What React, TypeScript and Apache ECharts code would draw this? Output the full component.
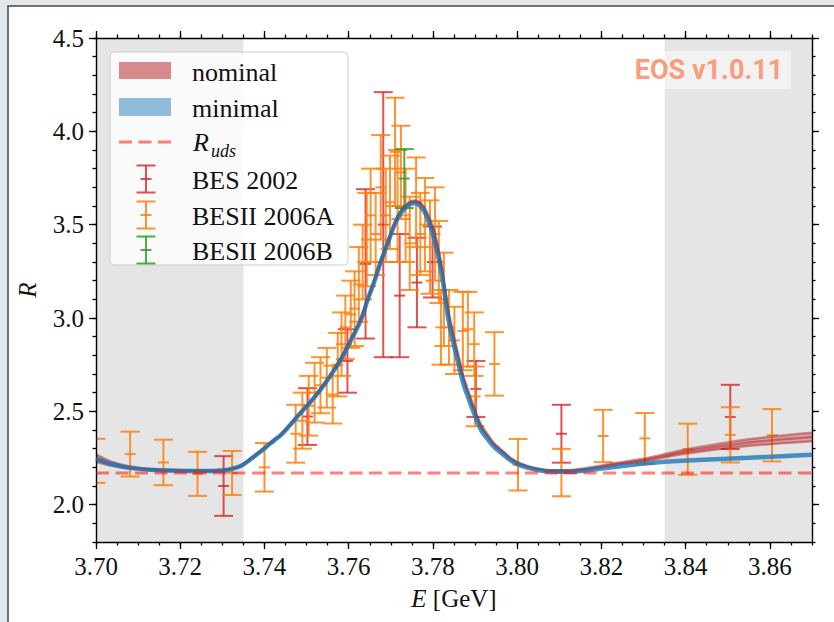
import React, { useEffect, useRef } from "react";
import * as echarts from "echarts";

// ---- data ----
const curveE = [
  3.7, 3.7035, 3.708, 3.715, 3.725, 3.73, 3.732, 3.7345, 3.7365, 3.739, 3.7415, 3.744, 3.7462, 3.7486,
  3.751, 3.7533, 3.7557, 3.7581, 3.7605, 3.7629, 3.7645, 3.766, 3.7676, 3.7693, 3.7707, 3.7719, 3.7731,
  3.7743, 3.7755, 3.7767, 3.7779, 3.779, 3.7802, 3.7812, 3.782, 3.7829, 3.7836, 3.7848, 3.786, 3.7871,
  3.7883, 3.7898, 3.7914, 3.7931, 3.7945, 3.7962, 3.7986, 3.801, 3.8045, 3.808, 3.813, 3.8175, 3.823,
  3.831, 3.839, 3.855, 3.87,
];
const minimalR = [
  2.245, 2.218, 2.197, 2.184, 2.18, 2.183, 2.19, 2.208, 2.24, 2.283, 2.33, 2.375, 2.43, 2.492,
  2.552, 2.616, 2.692, 2.777, 2.88, 2.99, 3.098, 3.19, 3.3, 3.403, 3.489, 3.548, 3.582,
  3.606, 3.615, 3.605, 3.572, 3.515, 3.435, 3.335, 3.245, 3.113, 3.001, 2.872, 2.76, 2.658,
  2.578, 2.487, 2.401, 2.348, 2.31, 2.278, 2.235, 2.208, 2.187, 2.178, 2.177, 2.186, 2.202,
  2.222, 2.235, 2.251, 2.267,
];
const nominalLowR = [
  2.23, 2.21, 2.195, 2.183, 2.18, 2.183, 2.19, 2.208, 2.24, 2.283, 2.33, 2.375, 2.43, 2.492,
  2.552, 2.616, 2.692, 2.777, 2.88, 2.99, 3.098, 3.19, 3.3, 3.403, 3.489, 3.548, 3.585,
  3.61, 3.62, 3.612, 3.58, 3.525, 3.45, 3.35, 3.262, 3.13, 3.02, 2.89, 2.778, 2.675,
  2.595, 2.5, 2.412, 2.358, 2.318, 2.285, 2.24, 2.212, 2.19, 2.18, 2.18, 2.19, 2.21,
  2.235, 2.27, 2.315, 2.34,
];
const nominalHighR = [
  2.27, 2.232, 2.205, 2.188, 2.183, 2.186, 2.193, 2.211, 2.243, 2.286, 2.333, 2.378, 2.433, 2.495,
  2.555, 2.62, 2.697, 2.782, 2.886, 2.996, 3.105, 3.198, 3.308, 3.412, 3.498, 3.558, 3.595,
  3.62, 3.63, 3.624, 3.595, 3.545, 3.475, 3.38, 3.29, 3.16, 3.05, 2.92, 2.805, 2.7,
  2.615, 2.52, 2.43, 2.372, 2.33, 2.295, 2.248, 2.218, 2.195, 2.185, 2.186, 2.2, 2.222,
  2.25, 2.29, 2.35, 2.385,
];
const rUds = 2.17;

// [E, R, error]
const bes2002 = [
  [3.7303, 2.1, 0.16], [3.7502, 2.472, 0.152], [3.7597, 2.77, 0.17], [3.764, 3.29, 0.4],
  [3.7682, 3.5, 0.71], [3.7721, 3.12, 0.33], [3.7762, 3.19, 0.24], [3.7799, 3.3, 0.19],
  [3.7902, 2.62, 0.15], [3.8105, 2.38, 0.155], [3.8506, 2.47, 0.172],
];
const besii2006A = [
  [3.7, 2.235, 0.118], [3.7081, 2.271, 0.12], [3.716, 2.226, 0.122], [3.7241, 2.165, 0.118],
  [3.7323, 2.17, 0.118], [3.74, 2.2, 0.13], [3.7474, 2.38, 0.155], [3.749, 2.45, 0.15],
  [3.7505, 2.53, 0.16], [3.7519, 2.6, 0.16], [3.7533, 2.64, 0.15], [3.7548, 2.68, 0.16],
  [3.7562, 2.59, 0.155], [3.7574, 2.75, 0.17], [3.7583, 2.86, 0.17], [3.7592, 2.95, 0.17],
  [3.7605, 3.02, 0.18], [3.7614, 3.05, 0.2], [3.7624, 3.18, 0.2], [3.7633, 3.3, 0.2],
  [3.7643, 3.42, 0.25], [3.7652, 3.55, 0.25], [3.7664, 3.45, 0.22], [3.7676, 3.7, 0.28],
  [3.7688, 3.55, 0.25], [3.7698, 3.62, 0.25], [3.771, 3.89, 0.29], [3.7716, 3.6, 0.3],
  [3.7724, 3.78, 0.25], [3.7735, 3.55, 0.25], [3.7745, 3.4, 0.25], [3.776, 3.62, 0.24],
  [3.777, 3.45, 0.22], [3.7781, 3.5, 0.25], [3.7793, 3.38, 0.25], [3.7805, 3.45, 0.25],
  [3.7814, 3.3, 0.22], [3.7819, 2.95, 0.2], [3.7826, 3.1, 0.25], [3.7838, 2.95, 0.2],
  [3.7851, 2.88, 0.18], [3.7871, 2.93, 0.21], [3.7883, 2.94, 0.2], [3.7898, 2.86, 0.17],
  [3.79, 2.58, 0.16], [3.7946, 2.754, 0.17], [3.8002, 2.214, 0.138], [3.8105, 2.172, 0.127],
  [3.8204, 2.368, 0.14], [3.8303, 2.355, 0.136], [3.8405, 2.297, 0.137], [3.8506, 2.374, 0.148],
  [3.8605, 2.372, 0.14],
];
const besii2006B = [[3.7732, 3.747, 0.158]];

const shadedRanges = [[3.7, 3.735], [3.835, 3.87]];
const xTicks = [3.7, 3.72, 3.74, 3.76, 3.78, 3.8, 3.82, 3.84, 3.86];
const yTicks = [2.0, 2.5, 3.0, 3.5, 4.0, 4.5];
const X_MIN = 3.7, X_MAX = 3.87, Y_MIN = 1.8, Y_MAX = 4.5;

const SERIF = "'Liberation Serif', 'DejaVu Serif', serif";
const RED = "rgba(214,39,40,0.8)";
const ORANGE = "rgba(255,127,14,0.85)";
const GREEN = "rgba(44,160,44,0.85)";
const NOM_LINE = "rgba(178,34,34,0.5)";

function errRender(color: string) {
  return (params: any, api: any) => {
    const x = api.value(0), y = api.value(1), e = api.value(2);
    const pc = api.coord([x, y]);
    const pt = api.coord([x, y + e]);
    const pb = api.coord([x, y - e]);
    const cap = 9.5, mk = 5.5;
    const style = { stroke: color, lineWidth: 2 };
    return {
      type: "group",
      children: [
        { type: "line", shape: { x1: pt[0], y1: pt[1], x2: pb[0], y2: pb[1] }, style },
        { type: "line", shape: { x1: pt[0] - cap, y1: pt[1], x2: pt[0] + cap, y2: pt[1] }, style },
        { type: "line", shape: { x1: pb[0] - cap, y1: pb[1], x2: pb[0] + cap, y2: pb[1] }, style },
        { type: "line", shape: { x1: pc[0] - mk, y1: pc[1], x2: pc[0] + mk, y2: pc[1] }, style },
      ],
    };
  };
}

function legendErr(x: number, yc: number, color: string) {
  const h = 13.5, cap = 9.5, mk = 5.5;
  const style = { stroke: color, lineWidth: 2 };
  return [
    { type: "line", z: 101, shape: { x1: x, y1: yc - h, x2: x, y2: yc + h }, style },
    { type: "line", z: 101, shape: { x1: x - cap, y1: yc - h, x2: x + cap, y2: yc - h }, style },
    { type: "line", z: 101, shape: { x1: x - cap, y1: yc + h, x2: x + cap, y2: yc + h }, style },
    { type: "line", z: 101, shape: { x1: x - mk, y1: yc, x2: x + mk, y2: yc }, style },
  ];
}

function legendText(x: number, y: number, text: string) {
  return {
    type: "text", z: 101, x, y,
    style: { text, fontFamily: SERIF, fontSize: 26, fill: "#111", textVerticalAlign: "middle" },
  };
}

export default function App() {
  const ref = useRef<HTMLDivElement>(null);
  useEffect(() => {
    if (!ref.current) return;
    const chart = echarts.init(ref.current, null, { renderer: "svg" });
    const axisLineStyle = { color: "#000", width: 1.4 };
    const tickStyle = { color: "#000", width: 1.3 };
    const labelStyle = { fontFamily: SERIF, fontSize: 25, color: "#111" };

    const majorX = (pos: string, withLabel: boolean, extra: any = {}) => ({
      type: "value", min: X_MIN, max: X_MAX, position: pos, z: 5,
      axisLine: { show: true, onZero: false, lineStyle: axisLineStyle },
      axisTick: { show: true, customValues: xTicks, length: 7, lineStyle: tickStyle },
      axisLabel: withLabel
        ? { show: true, customValues: xTicks, formatter: (v: number) => v.toFixed(2), margin: 12, ...labelStyle }
        : { show: false },
      splitLine: { show: false },
      ...extra,
    });
    const minorX = (pos: string) => ({
      type: "value", min: X_MIN, max: X_MAX, interval: 0.005, position: pos, z: 5,
      axisLine: { show: false }, axisTick: { show: true, length: 3.5, lineStyle: tickStyle },
      axisLabel: { show: false }, splitLine: { show: false },
    });
    const majorY = (pos: string, withLabel: boolean, extra: any = {}) => ({
      type: "value", min: Y_MIN, max: Y_MAX, position: pos, z: 5,
      axisLine: { show: true, onZero: false, lineStyle: axisLineStyle },
      axisTick: { show: true, customValues: yTicks, length: 7, lineStyle: tickStyle },
      axisLabel: withLabel
        ? { show: true, customValues: yTicks, formatter: (v: number) => v.toFixed(1), margin: 12, ...labelStyle }
        : { show: false },
      splitLine: { show: false },
      ...extra,
    });
    const minorY = (pos: string) => ({
      type: "value", min: Y_MIN, max: Y_MAX, interval: 0.1, position: pos, z: 5,
      axisLine: { show: false }, axisTick: { show: true, length: 3.5, lineStyle: tickStyle },
      axisLabel: { show: false }, splitLine: { show: false },
    });

    const toPairs = (ys: number[]) => curveE.map((e, i) => [e, ys[i]]);
    const nominalMid = curveE.map((e, i) => (nominalLowR[i] + nominalHighR[i]) / 2);

    const errSeries = (name: string, data: number[][], color: string, z: number) => ({
      name, type: "custom", data, renderItem: errRender(color), clip: true, z,
      encode: { x: 0, y: 1 }, silent: true,
    });

    const nomLine = (name: string, ys: number[]) => ({
      name, type: "line", data: toPairs(ys), showSymbol: false, smooth: 0.3, z: 4, silent: true,
      lineStyle: { color: NOM_LINE, width: 2.5 },
    });

    chart.setOption({
      animation: false,
      backgroundColor: "#e2e7eb",
      grid: { left: 96, right: 22, top: 38, bottom: 80, containLabel: false },
      xAxis: [
        majorX("bottom", true, {
          name: "{i|E} [GeV]", nameLocation: "middle", nameGap: 44,
          nameTextStyle: { fontFamily: SERIF, fontSize: 25, color: "#111",
            rich: { i: { fontFamily: SERIF, fontSize: 25, fontStyle: "italic", color: "#111" } } },
        }),
        minorX("bottom"),
        majorX("top", false),
        minorX("top"),
      ],
      yAxis: [
        majorY("left", true, {
          name: "R", nameLocation: "middle", nameGap: 56,
          nameTextStyle: { fontFamily: SERIF, fontSize: 25, fontStyle: "italic", color: "#111" },
        }),
        minorY("left"),
        majorY("right", false),
        minorY("right"),
      ],
      graphic: [
        { type: "rect", z: -10, shape: { x: 8, y: 6, width: 900, height: 700 },
          style: { fill: "#fff", stroke: "#444", lineWidth: 1.5 } },
        // EOS watermark
        { type: "rect", z: 90, shape: { x: 628, y: 51, width: 163, height: 38 },
          style: { fill: "rgba(255,255,255,0.5)" } },
        { type: "text", z: 91, x: 709, y: 70,
          style: { text: "EOS v1.0.11", fontFamily: "Roboto, 'DejaVu Sans', sans-serif", fontWeight: "bold",
            fontSize: 27, fill: "#fb9c7c", textAlign: "center", textVerticalAlign: "middle" } },
        // legend
        { type: "rect", z: 100, shape: { x: 110, y: 52, width: 238, height: 213, r: 4 },
          style: { fill: "rgba(255,255,255,0.8)", stroke: "rgba(200,200,200,0.9)", lineWidth: 1 } },
        { type: "rect", z: 101, shape: { x: 119, y: 62, width: 52, height: 17 }, style: { fill: "#d68a8c" } },
        legendText(192, 72, "nominal"),
        { type: "rect", z: 101, shape: { x: 119, y: 98, width: 52, height: 18 }, style: { fill: "#8fbbdb" } },
        legendText(192, 108, "minimal"),
        { type: "line", z: 101, shape: { x1: 119, y1: 142, x2: 172, y2: 142 },
          style: { stroke: "rgba(255,0,0,0.5)", lineWidth: 3, lineDash: [13, 6.5] } },
        { type: "text", z: 101, x: 193, y: 142,
          style: { text: "R", fontFamily: SERIF, fontSize: 26, fontStyle: "italic", fill: "#111", textVerticalAlign: "middle" } },
        { type: "text", z: 101, x: 211, y: 151,
          style: { text: "uds", fontFamily: SERIF, fontSize: 18, fontStyle: "italic", fill: "#111", textVerticalAlign: "middle" } },
        ...legendErr(146, 179, RED),
        legendText(192, 180, "BES 2002"),
        ...legendErr(146, 215, ORANGE),
        legendText(192, 216, "BESII 2006A"),
        ...legendErr(146, 250, GREEN),
        legendText(192, 251, "BESII 2006B"),
      ],
      series: [
        {
          name: "shade", type: "line", data: [], silent: true, z: 1,
          markArea: {
            silent: true, itemStyle: { color: "#e5e5e5" },
            data: shadedRanges.map(([a, b]) => [{ xAxis: a }, { xAxis: b }]),
          },
        },
        errSeries("BES 2002", bes2002, RED, 3),
        errSeries("BESII 2006A", besii2006A, ORANGE, 3),
        errSeries("BESII 2006B", besii2006B, GREEN, 3),
        {
          name: "nominal band", type: "custom", data: [[X_MIN, Y_MIN]], encode: { x: 0, y: 1 },
          clip: true, z: 4, silent: true,
          renderItem: (params: any, api: any) => {
            const upper = curveE.map((e, i) => api.coord([e, nominalHighR[i]]));
            const lower = curveE.map((e, i) => api.coord([e, nominalLowR[i]])).reverse();
            return {
              type: "polygon",
              shape: { points: upper.concat(lower) },
              style: { fill: "rgba(178,34,34,0.3)" },
            };
          },
        },
        nomLine("nominal low", nominalLowR),
        nomLine("nominal", nominalMid),
        nomLine("nominal high", nominalHighR),
        {
          name: "minimal", type: "line", data: toPairs(minimalR),
          showSymbol: false, smooth: 0.3, z: 5, silent: true,
          lineStyle: { color: "rgba(31,119,180,0.8)", width: 4.5 },
        },
        {
          name: "R_uds", type: "line", data: [[X_MIN, rUds], [X_MAX, rUds]],
          showSymbol: false, z: 6, silent: true,
          lineStyle: { color: "rgba(255,0,0,0.5)", width: 3, type: [13, 6.5] },
        },
      ],
    });
    return () => chart.dispose();
  }, []);
  return (
    <div
      ref={ref}
      style={{ position: "fixed", left: 0, top: 0, width: 834, height: 622 }}
    />
  );
}
